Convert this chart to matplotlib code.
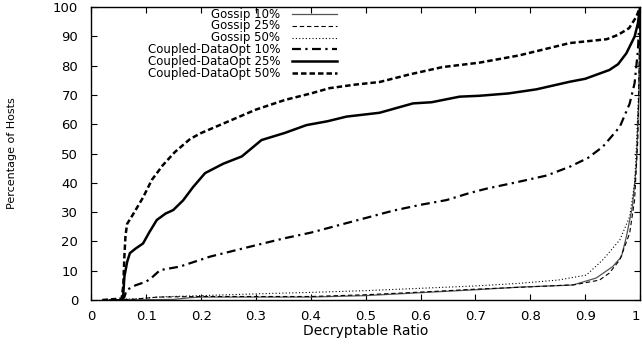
import matplotlib
matplotlib.use("Agg")
import matplotlib.pyplot as plt
import numpy as np

plt.rcParams['font.family'] = ['DejaVu Sans']

# ---- data ----
labels = ["Gossip 10%", "Gossip 25%", "Gossip 50%",
          "Coupled-DataOpt 10%", "Coupled-DataOpt 25%", "Coupled-DataOpt 50%"]

g10_x = [0.02, 0.15, 0.18, 0.2, 0.3, 0.4, 0.5, 0.6, 0.7, 0.78, 0.877, 0.92, 0.95, 0.966, 0.975, 0.986, 0.993, 0.998, 1.0]
g10_y = [0, 0.2, 0.8, 1.0, 1.0, 1.0, 1.5, 2.5, 3.5, 4.4, 5.1, 7.5, 11.4, 14.8, 21.6, 31.8, 45.5, 70, 100]

g25_x = [0.02, 0.08, 0.12, 0.2, 0.3, 0.4, 0.5, 0.6, 0.7, 0.8, 0.88, 0.926, 0.944, 0.963, 0.981, 0.99, 0.996, 1.0]
g25_y = [0, 0.3, 1.0, 1.2, 1.2, 1.2, 1.8, 2.7, 3.7, 4.5, 5.2, 6.8, 9.2, 13.7, 22.8, 34.1, 55, 100]

g50_x = [0.02, 0.08, 0.13, 0.2, 0.3, 0.4, 0.5, 0.6, 0.7, 0.78, 0.85, 0.902, 0.932, 0.963, 0.981, 0.99, 0.993, 0.998, 1.0]
g50_y = [0, 0.4, 1.1, 1.5, 2.1, 2.6, 3.2, 4.0, 4.8, 5.7, 6.8, 8.5, 13.7, 20.5, 28.4, 39.8, 51, 75, 100]

c10_x = [0.055, 0.06, 0.064, 0.08, 0.1, 0.112, 0.125, 0.161, 0.216, 0.289, 0.35, 0.4, 0.45, 0.5, 0.55, 0.6, 0.647, 0.689, 0.72, 0.78, 0.83, 0.872, 0.905, 0.932, 0.963, 0.981, 0.99, 0.996, 1.0]
c10_y = [0, 1, 3.4, 5, 6.3, 8, 10.2, 11.4, 14.8, 18.2, 21, 23, 25.5, 28, 30.5, 32.5, 34.1, 36.5, 38, 40.4, 42.5, 45.5, 48.5, 52.3, 59.1, 67, 74, 85, 100]

c25_x = [0.055, 0.058, 0.06, 0.065, 0.07, 0.08, 0.094, 0.105, 0.119, 0.135, 0.149, 0.167, 0.185, 0.207, 0.24, 0.274, 0.31, 0.352, 0.392, 0.43, 0.465, 0.525, 0.586, 0.62, 0.671, 0.707, 0.76, 0.811, 0.872, 0.9, 0.944, 0.96, 0.975, 0.99, 0.996, 1.0]
c25_y = [0, 2, 8, 13, 16, 17.5, 19.3, 23, 27.3, 29.5, 30.7, 34, 38.5, 43.3, 46.5, 49, 54.6, 57, 59.7, 61, 62.6, 63.9, 67.1, 67.5, 69.4, 69.7, 70.5, 71.9, 74.5, 75.5, 78.5, 80.5, 84.2, 89.9, 94.4, 100]

c50_x = [0.02, 0.055, 0.058, 0.06, 0.062, 0.065, 0.075, 0.094, 0.11, 0.13, 0.152, 0.18, 0.2, 0.25, 0.3, 0.353, 0.4, 0.434, 0.48, 0.525, 0.58, 0.64, 0.707, 0.78, 0.872, 0.939, 0.96, 0.98, 0.993, 1.0]
c50_y = [0, 0.5, 5, 15, 22, 26, 29, 35, 41, 46, 50.5, 55, 57, 61, 65, 68.3, 70.5, 72.3, 73.5, 74.4, 77, 79.5, 81, 83.5, 87.7, 89, 90.5, 92.8, 96.6, 100]

xticks = [0, 0.1, 0.2, 0.3, 0.4, 0.5, 0.6, 0.7, 0.8, 0.9, 1]
xticklabels = ["0", "0.1", "0.2", "0.3", "0.4", "0.5", "0.6", "0.7", "0.8", "0.9", "1"]
yticks = list(range(0, 101, 10))

series = [(g10_x, g10_y), (g25_x, g25_y), (g50_x, g50_y),
          (c10_x, c10_y), (c25_x, c25_y), (c50_x, c50_y)]
styles = [
    dict(color='#555555', lw=0.9, linestyle='-'),
    dict(color='black', lw=0.8, linestyle=(0, (4, 2.5))),
    dict(color='black', lw=0.8, linestyle=(0, (1, 2))),
    dict(color='black', lw=1.6, linestyle=(0, (4, 2, 1, 2))),
    dict(color='black', lw=1.8, linestyle='-'),
    dict(color='black', lw=1.8, linestyle=(0, (2.2, 1.2))),
]

fig = plt.figure(figsize=(6.42, 3.45), dpi=100)
ax = fig.add_axes([0.1425, 0.1304, 0.8545, 0.8493])

for (x, y), st in zip(series, styles):
    ax.plot(x, y, **st)

ax.set_xlim(0, 1)
ax.set_ylim(0, 100)
ax.set_xticks(xticks)
ax.set_xticklabels(xticklabels)
ax.set_yticks(yticks)
ax.tick_params(direction='in', length=4, width=0.8, top=True, right=True,
               labelsize=9.5)
ax.tick_params(axis='x', pad=7.5)
ax.tick_params(axis='y', pad=9.5)
for s in ax.spines.values():
    s.set_linewidth(1.0)
# last x tick label sits at the figure edge: keep it inside the canvas
ax.get_xticklabels()[-1].set_horizontalalignment('right')

ax.set_xlabel("Decryptable Ratio", fontsize=10)
ax.xaxis.set_label_coords(0.5, -0.083)
ax.set_ylabel("Percentage of Hosts", fontsize=8)
ax.yaxis.set_label_coords(-0.136, 0.5)

# gnuplot-style key (right-aligned text, sample to the right)
ly = [0.976, 0.9358, 0.8956, 0.8553, 0.815, 0.7747]
for lab, st, yy in zip(labels, styles, ly):
    ax.text(0.3437, yy, lab, transform=ax.transAxes, ha='right', va='center',
            fontsize=8.5)
    ax.plot([0.3655, 0.4476], [yy, yy], transform=ax.transAxes, **st)

fig.savefig("out.png", dpi=100)
